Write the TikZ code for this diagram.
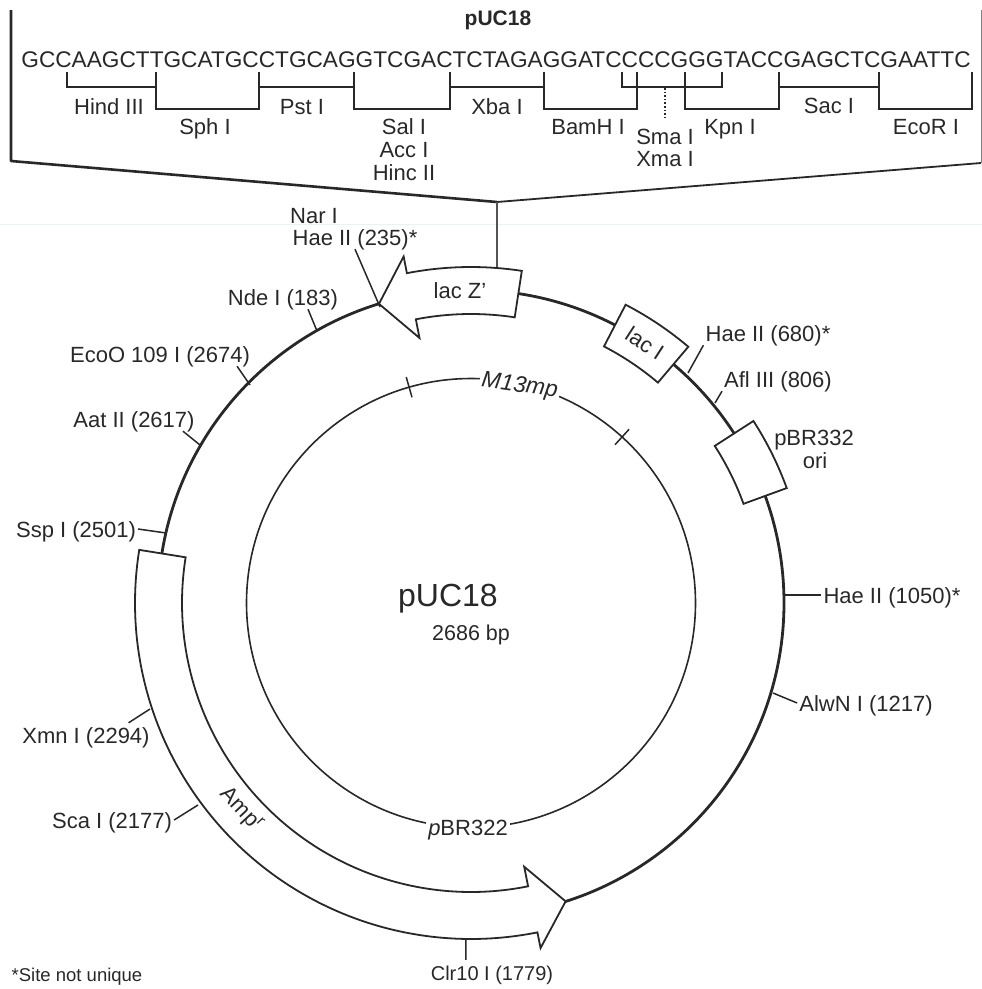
\documentclass[tikz,border=0pt]{standalone}
\usepackage{fontspec}
\setmainfont{Liberation Sans}
\definecolor{scanline}{RGB}{232,244,244}
\definecolor{ink}{RGB}{40,40,40}

\begin{document}
\begin{tikzpicture}[
    x=1pt, y=1pt,
    seq/.style={
        inner sep=0pt,
        text=ink,
        font=\fontsize{22.65}{24}\selectfont
    },
    site/.style={
        inner xsep=2pt,
        inner ysep=4pt,
        text=ink,
        text height=16pt,
        text depth=0pt,
        font=\fontsize{22}{24}\selectfont
    },
    title/.style={
        inner sep=2pt,
        text=ink,
        font=\bfseries\fontsize{21}{24}\selectfont
    },
    frameline/.style={draw=ink, line width=1.8pt, line join=round},
    bracket/.style={draw=ink, line width=1.6pt},
    ring/.style={draw=ink, line width=2.8pt},
    inner/.style={draw=ink, line width=1.6pt},
    feature/.style={draw=ink, fill=white, line width=1.8pt, line join=miter},
    tick/.style={draw=ink, line width=1.5pt},
]
\useasboundingbox (0,0) rectangle (982,-989);

% faint scan line
\draw[scanline, line width=1pt] (0,-224) -- (982,-224);

% polylinker
\node[title] (title) at (498,-20) {pUC18};
\node[seq] (polylinker) at (496,-60) {GCCAAGCTTGCATGCCTGCAGGTCGACTCTAGAGGATCCCCGGGTACCGAGCTCGAATTC};

\draw[bracket] (67,-72) -- (67,-87) -- (156,-87) -- (156,-72);
\draw[bracket] (156,-72) -- (156,-109) -- (259,-109) -- (259,-72);
\draw[bracket] (259,-87) -- (354,-87);
\draw[bracket] (354,-72) -- (354,-109) -- (450,-109) -- (450,-72);
\draw[bracket] (450,-87) -- (544,-87);
\draw[bracket] (544,-72) -- (544,-109) -- (637,-109) -- (637,-72);
\draw[bracket] (622,-72) -- (622,-87) -- (722,-87) -- (722,-72);
\draw[bracket] (685,-72) -- (685,-109) -- (779,-109) -- (779,-72);
\draw[bracket] (779,-87) -- (879,-87);
\draw[bracket] (879,-72) -- (879,-109) -- (972,-109) -- (972,-72);
\draw[bracket, dotted] (665,-88) -- (665,-118);

\node[site] (hindIII) at (109,-106) {Hind III};
\node[site] (sphI) at (205,-126) {Sph I};
\node[site] (pstI) at (302,-106) {Pst I};
\node[site] (salI) at (404,-126) {Sal I};
\node[site] (accI) at (404,-149) {Acc I};
\node[site] (hincII) at (404,-172) {Hinc II};
\node[site] (xbaI) at (497,-106) {Xba I};
\node[site] (bamHI) at (588,-126) {BamH I};
\node[site] (smaI) at (665,-136) {Sma I};
\node[site] (xmaI) at (665,-158) {Xma I};
\node[site] (kpnI) at (730,-126) {Kpn I};
\node[site] (sacI) at (829,-105) {Sac I};
\node[site] (ecoRI) at (926,-126) {EcoR I};

% frame and stem
\draw[frameline, line width=2.6pt] (11,-10) -- (11,-161) -- (497,-202);
\draw[frameline] (497,-202) -- (981,-163);
\draw[draw=gray, line width=1pt] (981,-163) -- (981,-10);
\draw[frameline, draw=ink!80] (497,-202) -- (497,-267);

% plasmid
\begin{scope}[shift={(471,-603)}]
    \draw[ring] (0,0) circle[radius=313];
    \draw[inner] (0,0) circle[radius=224.5];
    \draw[tick] (106:214) -- (106:235);
    \draw[tick] (47.7:214) -- (47.7:235);

    \draw[feature] (81.3:336) arc[start angle=81.3, end angle=101, radius=336]
        -- (101:353) -- (107.1:313) -- (101:270) -- (101:289)
        arc[start angle=101, end angle=81.3, radius=289] -- cycle;
    \draw[feature] (62.6:336) arc[start angle=62.6, end angle=49.7, radius=336]
        -- (49.7:289) arc[start angle=49.7, end angle=62.6, radius=289] -- cycle;
    \draw[feature] (32.8:336) arc[start angle=32.8, end angle=20, radius=336]
        -- (20:290) arc[start angle=20, end angle=32.8, radius=290] -- cycle;
    \draw[feature] (170.9:336) arc[start angle=170.9, end angle=281.4, radius=336]
        -- (281.4:352) -- (287.6:313) -- (281.4:269) -- (281.4:289)
        arc[start angle=281.4, end angle=170.9, radius=289] -- cycle;
\end{scope}

% ring labels
\node[site] (lacZ) at (460,-290) {lac Z'};
\node[site, rotate=-33] (lacI) at (645,-343) {lac I};
\node[site] (pBRori) at (814,-437) {pBR332};
\node[site] (ori) at (815,-460) {ori};
\node[site, rotate=-47] (amp) at (243,-808) {Amp\textsuperscript{r}};
\node[site, fill=white, rotate=-8, font=\itshape\fontsize{23}{24}\selectfont] (m13) at (520,-384) {M13mp};
\node[site, fill=white] (pBR322) at (468,-827) {\textit{p}BR322};
\node[site, font=\fontsize{32}{34}\selectfont, text height=23pt, text depth=0pt] (name) at (448,-595) {pUC18};
\node[site, font=\fontsize{21.5}{24}\selectfont] (size) at (471,-632) {2686 bp};

% restriction sites
\node[site] (narI) at (314,-215) {Nar I};
\node[site] (hae235) at (355,-237) {Hae II (235)*};
\node[site] (ndeI) at (283,-297) {Nde I (183)};
\node[site] (ecoO) at (160,-354) {EcoO 109 I (2674)};
\node[site] (aatII) at (134,-419) {Aat II (2617)};
\node[site] (sspI) at (76,-529) {Ssp I (2501)};
\node[site] (xmnI) at (86,-735) {Xmn I (2294)};
\node[site] (scaI) at (112,-820) {Sca I (2177)};
\node[site, font=\fontsize{20}{24}\selectfont] (clr10) at (492,-972) {Clr10 I (1779)};
\node[site] (hae680) at (768,-333) {Hae II (680)*};
\node[site] (aflIII) at (778,-379) {Afl III (806)};
\node[site] (hae1050) at (892,-595) {Hae II (1050)*};
\node[site] (alwN) at (866,-703) {AlwN I (1217)};
\node[site, font=\fontsize{18.5}{24}\selectfont] (note) at (77,-973) {*Site not unique};

\coordinate (narSite) at (380,-307);
\coordinate (ndeSite) at (317,-331);
\coordinate (ecoOSite) at (250,-385);
\coordinate (aatSite) at (200,-445);
\coordinate (sspSite) at (166,-533);
\coordinate (xmnSite) at (150,-709);
\coordinate (scaSite) at (198,-805);
\coordinate (clrSite) at (466,-938);
\coordinate (hae680Site) at (688,-373);
\coordinate (aflSite) at (715,-403);
\coordinate (hae1050Site) at (785,-595);
\coordinate (alwSite) at (773,-693);

\draw[tick] (narSite) -- (hae235.south);
\draw[tick] (ndeSite) -- (ndeI.-26);
\draw[tick] (ecoOSite) -- (ecoO.-9);
\draw[tick] (aatSite) -- (aatII.-14);
\draw[tick] (sspSite) -- (sspI.east);
\draw[tick] (xmnSite) -- (xmnI.16);
\draw[tick] (scaSite) -- (scaI.east);
\draw[tick] (clrSite) -- (clr10.155);
\draw[tick] (hae680Site) -- (hae680.south west);
\draw[tick] (aflSite) -- (aflIII.south west);
\draw[tick] (hae1050Site) -- (hae1050.west);
\draw[tick] (alwSite) -- (alwN.west);

\end{tikzpicture}
\end{document}
